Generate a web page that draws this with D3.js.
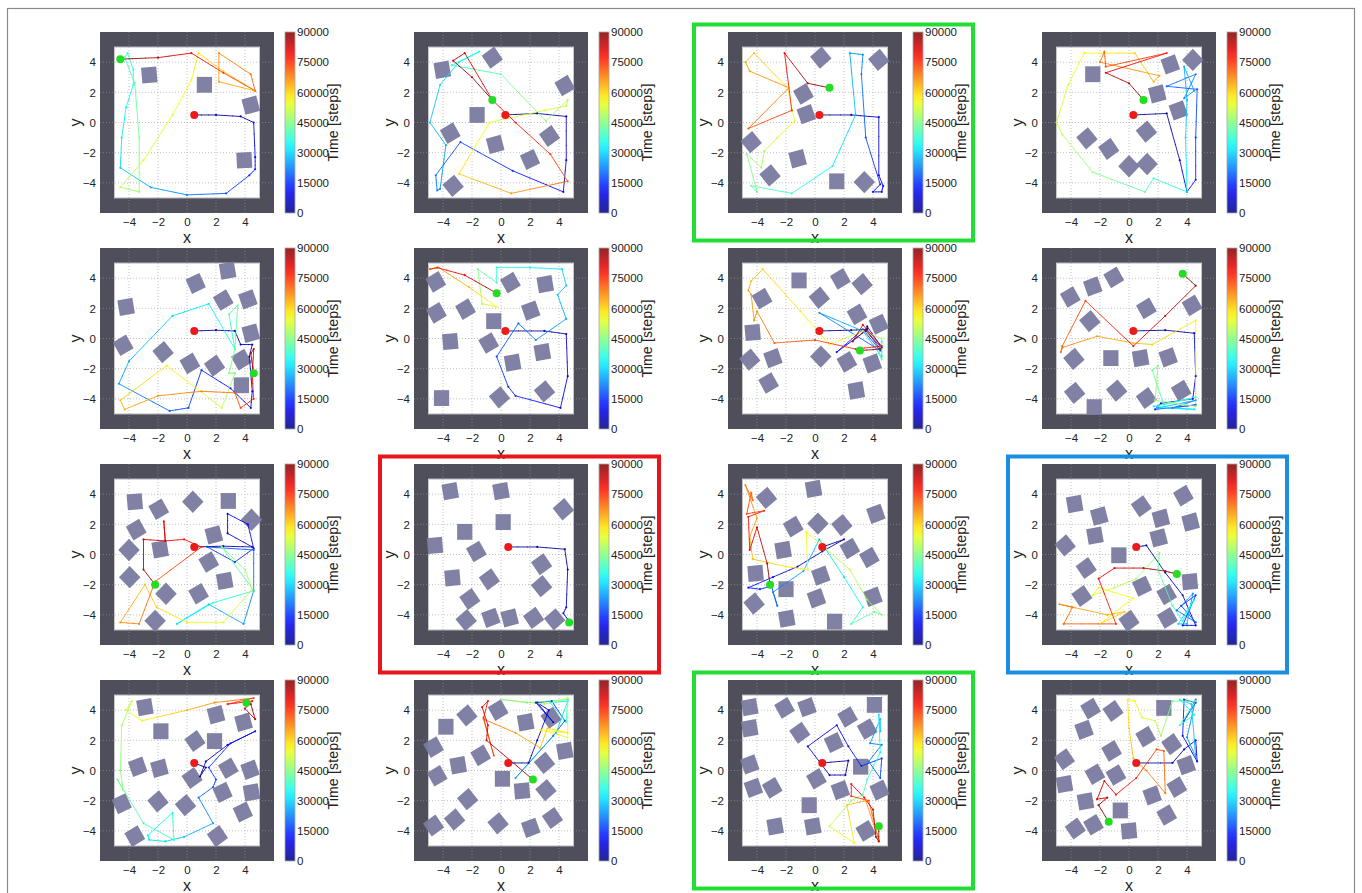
<!DOCTYPE html>
<html>
<head>
<meta charset="utf-8">
<script src="https://cdn.jsdelivr.net/npm/d3@7"></script>
<style>
  html, body { margin: 0; padding: 0; background: #fff; }
  svg { display: block; font-family: "Liberation Sans", Arial, sans-serif; }
</style>
</head>
<body>
<svg id="chart" width="1362" height="893"></svg>
<script>
// ---- shared values ----
const axisTicks = [-4, -2, 0, 2, 4];
const colorbarTicks = [0, 15000, 30000, 45000, 60000, 75000, 90000];
const timeMax = 90000;
const arenaHalf = 5;          // inner free area [-5, 5]
const axisHalf = 6;           // plot domain [-6, 6]
const obstacleSide = 1.05;

// ---- obstacles per run: [x, y, rotation in degrees] ----
const obstacles1 = [[-2.6,3.15,5],[1.2,2.5,0],[4.4,1.15,15],[3.95,-2.5,3]];
const obstacles2 = [[-4.05,3.5,10],[-0.6,4.3,35],[4.4,2.45,30],[-1.65,0.5,0],[-3.5,-0.7,30],[-0.4,-1.45,15],[3.35,-0.9,35],[2.0,-2.45,25],[-3.3,-4.2,40]];
const obstacles3 = [[0.4,4.3,40],[4.4,4.15,40],[-0.8,1.9,30],[-0.6,0.55,20],[-4.4,-1.3,40],[-1.2,-2.4,15],[-3.1,-3.5,40],[1.5,-3.9,0],[3.4,-3.95,45]];
const obstacles4 = [[-2.5,3.2,0],[2.85,3.85,20],[4.4,4.15,45],[1.95,1.9,15],[3.4,0.8,20],[1.2,-0.6,40],[-2.9,-1.05,40],[-1.4,-1.75,35],[0,-2.9,45],[1.25,-2.75,45]];
const obstacles5 = [[2.8,4.5,10],[0.6,3.65,25],[2.5,2.55,30],[4.2,2.6,20],[-4.2,2.1,10],[4.4,0.35,15],[-4.4,-0.45,30],[-1.65,-0.9,40],[0.2,-1.65,30],[1.9,-1.8,35],[3.75,-1.4,30],[3.75,-3.1,0]];
const obstacles6 = [[-4.5,3.75,30],[0.65,3.7,30],[3.05,3.6,10],[-4.45,1.7,30],[-2.45,1.95,30],[2.05,1.85,20],[-0.5,1.15,0],[-3.5,-0.2,5],[-0.85,-0.3,30],[2.85,-0.9,10],[0.8,-1.6,10],[-4.1,-3.95,0],[-0.1,-3.9,40],[3.0,-3.5,40]];
const obstacles7 = [[-1.1,3.85,0],[1.75,3.95,30],[3.25,3.6,40],[-3.65,2.65,30],[0.3,2.7,40],[2.9,1.6,30],[4.4,0.95,25],[-4.3,0.4,5],[-4.5,-1.4,40],[-2.9,-1.3,20],[0.4,-1.2,45],[2.2,-1.55,30],[3.95,-1.65,20],[-3.2,-2.95,30],[2.85,-3.45,10]];
const obstacles8 = [[-4.05,2.75,30],[-2.5,3.45,20],[-1.05,4.05,30],[1.2,2.0,30],[4.35,2.2,30],[-2.7,1.15,40],[-3.8,-1.35,40],[-1.25,-1.3,0],[0.8,-1.3,10],[2.7,-1.25,20],[-3.75,-3.6,40],[-0.85,-3.45,40],[1.2,-3.95,35],[3.6,-3.45,30],[-2.4,-4.55,0]];
const obstacles9 = [[-3.6,3.5,5],[-1.95,3.0,30],[0.4,3.5,45],[2.85,3.55,0],[4.45,2.3,45],[-3.5,1.65,30],[-4.0,0.3,45],[-1.85,0.35,10],[1.85,1.3,15],[1.5,-0.5,30],[-3.95,-1.5,45],[2.6,-1.75,10],[-1.45,-2.6,45],[0.8,-2.6,30],[-2.2,-4.4,45]];
const obstacles10 = [[-3.5,4.2,10],[0,4.2,10],[4.3,3.0,40],[0.15,2.15,0],[-2.5,1.5,0],[-4.55,0.6,5],[-1.7,0.2,30],[2.8,-0.65,35],[-3.35,-1.55,5],[-0.8,-1.65,35],[2.8,-2.1,40],[-2.15,-2.95,35],[-2.4,-4.35,40],[-0.7,-4.2,20],[0.6,-4.2,15],[2.25,-4.2,35],[3.7,-4.3,40]];
const obstacles11 = [[-0.1,4.35,10],[-3.35,3.75,40],[4.2,2.7,20],[-1.5,1.85,30],[0.2,2.05,45],[1.85,1.95,40],[-2.2,0.3,10],[2.4,0.4,30],[3.75,-0.2,30],[-4.1,-1.25,5],[0.4,-1.4,20],[-2.0,-2.3,0],[0.1,-2.9,20],[4.0,-2.8,20],[-4.2,-3.25,40],[-1.95,-4.25,10],[1.35,-4.45,0]];
const obstacles12 = [[-3.75,3.35,10],[-2.05,2.55,15],[0.85,3.2,35],[2.2,2.4,15],[3.75,3.9,30],[4.25,2.15,15],[-2.35,1.25,10],[2.05,1.1,15],[-4.4,0.6,40],[-0.7,-0.05,0],[-2.95,-0.9,35],[4.2,-1.8,5],[0.9,-2.1,25],[2.6,-2.65,30],[-3.25,-2.75,35],[0,-4.4,35],[2.65,-4.2,30]];
const obstacles13 = [[-2.9,4.2,10],[-1.8,2.6,0],[2.0,3.7,15],[3.9,3.2,15],[0.55,1.95,35],[1.9,1.95,0],[-3.4,0.25,20],[-1.9,0.15,15],[0.35,-0.5,35],[2.85,0.15,30],[4.35,0.05,20],[2.45,-1.45,25],[4.45,-1.45,10],[-4.5,-2.2,25],[-2.0,-2.05,40],[-0.1,-2.3,40],[3.85,-2.75,25],[-3.6,-4.35,30],[2.1,-4.35,35]];
const obstacles14 = [[-2.35,3.65,40],[-0.2,4.0,30],[1.7,3.2,10],[3.45,3.5,35],[-3.8,2.9,0],[4.4,1.3,10],[-4.65,1.55,30],[-1.4,1.0,30],[-2.95,0.35,10],[-4.4,-0.35,30],[0.1,-0.55,0],[3.0,0.5,40],[1.45,-1.35,5],[3.1,-1.3,40],[-2.3,-1.9,40],[-4.65,-3.65,35],[-3.2,-3.25,40],[-0.2,-3.5,40],[2.05,-3.8,20],[3.55,-3.15,35]];
const obstacles15 = [[-4.5,4.2,10],[-2.1,4.15,30],[-0.55,4.2,20],[4.1,4.35,0],[-4.5,2.8,10],[2.25,3.55,30],[3.6,2.75,30],[-1.05,2.5,35],[1.3,1.85,25],[-4.5,0.4,20],[3.15,0.25,0],[0.1,-0.55,30],[-4.25,-1.15,20],[-2.95,-1.15,30],[1.75,-1.3,20],[4.45,-1.3,25],[-0.4,-2.3,0],[-2.75,-3.7,10],[-0.15,-3.7,10],[3.5,-4.0,30]];
const obstacles16 = [[-2.65,4.1,30],[-1.1,3.95,35],[2.4,4.15,0],[-3.1,2.7,20],[1.15,2.25,30],[2.95,1.75,35],[-1.2,1.3,30],[-4.45,0.75,35],[-2.35,-0.25,30],[-0.9,-0.3,30],[3.95,0.35,20],[-4.45,-0.9,10],[3.3,-1.1,30],[1.6,-1.65,20],[-3.0,-2.05,10],[-0.6,-2.65,0],[2.6,-2.95,30],[-3.7,-3.85,35],[-2.45,-3.6,30],[0,-4.0,5]];

// ---- robot paths per run: [x, y, time step] ----
const path1 = [[0.5,0.5,0],[2.0,0.5,2000],[3.7,0.4,5000],[4.6,0.0,7000],[4.7,-2.3,10000],[4.7,-3.1,12000],[4.3,-3.5,14000],[2.7,-4.7,18000],[0,-4.8,22000],[-2.5,-4.3,26000],[-4.6,-3.0,30000],[-4.5,-1,32000],[-4.2,1.0,34000],[-3.7,2.5,36000],[-3.7,3.5,37000],[-4.1,4.6,38500],[-4.3,4.3,39000],[-3.6,2.6,41000],[-3.3,-1,44000],[-3.3,-4.6,47000],[-4.6,-4.3,49000],[-3,-2.5,52000],[-1,0.5,54500],[0.3,2.8,57000],[0.8,4.6,59000],[2.5,3.4,61000],[4.7,2.1,63000],[2.2,2.7,65000],[2.2,4.6,67000],[4.4,3.2,69000],[4.7,2.1,71000],[2.5,3.3,75000],[0.3,4.6,80000],[-2,4.3,85000],[-4.6,4.2,90000]];
const path2 = [[0.3,0.5,0],[2.5,0.6,2500],[4.5,0.4,5000],[4.5,-2.5,8000],[4.3,-4.6,10000],[0.8,-3.2,13500],[-2.8,-1.3,17000],[-4.5,-3.5,21000],[-4.4,-4.5,22500],[-4.2,-4.4,23500],[-3.8,-1.5,26000],[-4.9,0,28000],[-4.2,2.5,30500],[-2.9,4.0,33000],[-1.5,4.7,35000],[-3.4,3.8,38000],[0,3.2,42000],[3.1,0.1,47000],[4.6,1.5,50000],[4.5,1.1,51000],[3.0,0.8,52500],[-0.8,0,55000],[-2.9,-3.4,60000],[0.7,-4.7,65000],[4.6,-3.9,70000],[3.4,-2.1,74000],[1,0,78000],[-0.6,1.5,80000],[-2.5,4.6,84000],[-3.3,4.1,86000],[-2.0,3.0,88000],[-0.6,1.5,90000]];
const path3 = [[0.3,0.5,0],[2.5,0.5,3000],[4.4,0.35,6000],[4.4,-3.5,9000],[4.7,-4.2,10500],[4.6,-4.6,11500],[4,-4.6,12500],[4.5,-4.1,13500],[3.5,-1,18000],[3.2,3.2,22000],[3.3,4.5,23500],[2.4,4.6,25000],[2.8,0.5,29000],[1.2,-2.9,33000],[-1.6,-4.7,38000],[-4.4,-4.2,42000],[-4.0,-4.6,43000],[-4.7,-2.1,45500],[-3.7,-3.0,48000],[-3.5,-1.9,50000],[-2.6,-1.0,53000],[-1.4,0.1,55000],[-1.9,2.3,58000],[-4.2,4.6,62000],[-4.8,4.0,63500],[-4.5,3.4,65000],[-1.8,2.3,67000],[-4.6,-0.4,71000],[-1.6,0.8,75000],[-2.1,4.6,80000],[-0.5,2.6,86000],[1.0,2.3,90000]];
const path4 = [[0.3,0.5,0],[2.6,0.6,3000],[3.5,-2.5,8000],[4.0,-4.6,12000],[4.6,-3.8,14000],[4.6,-1,16000],[4.7,2.2,18000],[2.6,2.4,20000],[4.6,3.2,22000],[3.8,1.6,24000],[4.5,2.1,25000],[3.8,3.7,27000],[4.0,1.5,28000],[3.9,-1,31000],[4.0,-4.6,35000],[1.7,-3.7,38000],[1.1,-4.6,41000],[-2.5,-3.3,46000],[-4.6,-0.8,50000],[-5.0,0,51500],[-4.2,2.5,54000],[-3.1,4.6,56000],[0.4,4.6,60000],[1.7,2.7,63000],[2.1,3.1,64500],[-2.0,4.0,68000],[-1.7,4.7,70000],[-1.6,3.7,72000],[2.6,4.6,76000],[-1.6,3.3,82000],[0,2.6,86000],[1.0,1.5,90000]];
const path5 = [[0.5,0.5,0],[2.0,0.55,2000],[3.3,0.5,4000],[3.7,-0.4,5500],[4.5,-0.4,6500],[4.3,-1.2,7500],[4.5,-3.5,9000],[4.4,-4.6,10000],[3.0,-3.3,12000],[1.0,-2.1,14000],[0.1,-4.6,17000],[-1.2,-4.8,19000],[-4.7,-3.0,25000],[-4.0,-1.5,27000],[-1,1.5,30000],[1.5,2.3,32000],[3.3,-0.7,36000],[2.9,1.6,39000],[3.5,2.2,41000],[3.3,-0.7,43000],[2.9,-2.3,45000],[3.3,-2.3,46000],[2.4,-4.6,52000],[-1.4,-1.8,58000],[-4.6,-4.1,62000],[-4.3,-4.7,63500],[-2,-3.8,66000],[1,-3.5,68000],[3.3,-3.6,70000],[3.7,-4.6,73000],[4.6,-4.0,76000],[4.5,-2.5,79000],[4.6,-0.7,84000],[4.4,-1.0,86000],[4.6,-2.3,90000]];
const path6 = [[0.3,0.5,0],[3.0,0.5,2500],[4.5,0.3,4000],[4.6,-2.5,7000],[4.1,-4.6,10000],[1.0,-3.8,14000],[0.5,-3.2,15000],[-0.3,-1.2,17000],[1.2,1.0,20000],[2.4,-0.1,22000],[4.5,1.3,26000],[3.9,2.9,28000],[4.5,3.5,29500],[4.2,4.6,31000],[2.0,4.7,34000],[-0.3,4.7,37000],[-0.3,3.7,40000],[-1.6,4.6,44000],[-1.3,2.3,50000],[-0.3,2.1,55000],[-2.2,3.4,62000],[-4.3,4.7,68000],[-4.9,4.6,72000],[-4.4,4.7,76000],[-2.5,4.2,82000],[-0.3,3.0,90000]];
const path7 = [[0.3,0.5,0],[2.5,0.55,2000],[3.6,0.6,3500],[3.6,0.8,4500],[4.6,-0.6,7000],[3.5,0.5,9000],[1.5,-0.9,12000],[3.3,0.6,15000],[4.5,-0.8,18000],[0.3,1.7,24000],[3.3,0.5,28000],[4.6,-1.2,31000],[4.6,-0.2,36000],[4.4,-1.0,40000],[4.6,-1.4,44000],[4.6,0,47000],[3.3,0.5,50000],[1.0,-0.4,55000],[-1.0,1.8,58000],[-3.6,4.6,60500],[-4.4,3.8,62500],[-4.6,3.2,64000],[-4.4,2.9,65000],[-4.2,1.2,66000],[-4.0,1.8,67000],[-2.8,-0.3,70000],[0,-0.1,73000],[2.8,-0.7,76000],[4.6,-0.5,79000],[3.3,0.9,82000],[2.6,-0.2,85000],[3.5,0.6,87000],[4.5,-0.7,88500],[3.1,-0.8,90000]];
const path8 = [[0.3,0.5,0],[2.5,0.55,2000],[4.5,0.35,4500],[4.6,-2.5,8000],[4.4,-4.0,10000],[2.2,-4.3,13000],[1.8,-4.7,15000],[4.6,-4.4,18000],[3.0,-4.6,21000],[4.6,-4.1,24000],[2.0,-4.6,27000],[4.5,-4.7,31000],[1.7,-4.5,34000],[4.6,-3.9,37000],[2.4,-4.4,40000],[1.6,-2.1,43000],[2.0,-1.8,44500],[1.8,-4.1,47000],[4.6,-4.5,50000],[4.6,-1.0,54000],[4.6,1.2,57000],[1.6,-0.4,61000],[0.3,-0.3,62500],[-2.2,0.15,65000],[-4.6,-0.6,68000],[-4.7,-0.9,69000],[-4.6,-0.5,70000],[-3.0,2.5,74000],[0.3,-0.5,79000],[2.5,1.5,83000],[4.6,3.5,87000],[3.7,4.3,90000]];
const path9 = [[0.5,0.5,0],[2.5,0.55,2000],[4.5,0.5,4500],[2.8,1.4,7000],[2.8,2.7,9000],[4.2,2.0,11000],[4.6,0.4,13000],[3.3,-0.5,15000],[1.4,0.5,17000],[4.6,0.3,19000],[4.6,-2.4,22000],[3.9,-4.6,25000],[1.5,-3.3,29000],[-0.7,-4.6,32000],[0,-4.2,33000],[1.8,-3.2,35000],[4.6,-2.4,39000],[2.4,0.5,44000],[4.0,-1,47000],[4.5,-2.3,50000],[2.5,-4.5,54000],[0,-4.5,57000],[-2.1,-3.5,60000],[-2.9,-2.0,62000],[-4.6,-4.5,66000],[-3.3,-4.6,68000],[-2.2,-1.8,71000],[1.0,0.5,76000],[-0.2,1.0,78000],[-1.5,0.9,80000],[-1.6,2.2,81500],[-1.5,0.9,82000],[-3.0,1.0,83500],[-3.0,-1.0,85500],[-2.2,-2.0,90000]];
const path10 = [[0.5,0.5,0],[2.5,0.5,1500],[4.4,0.35,3000],[4.6,-1.0,4500],[4.5,-3.5,9000],[4.3,-3.9,10000],[4.6,-4.3,11000],[4.7,-4.5,12000]];
const path11 = [[0.5,0.5,0],[2.0,1.0,3000],[0.5,0.2,5000],[-1.2,-0.8,8000],[-2.9,-1.5,11000],[-4.6,-2.2,13000],[-3.8,-2.3,15000],[-3.0,-2.1,17000],[-2.6,-3.4,20000],[-2.9,-2.5,22000],[-0.8,-1.1,26000],[0.3,1.0,29000],[2.0,-1.5,33000],[3.3,-3.5,36000],[2.5,-4.6,40000],[4.1,-3.8,43000],[4.6,-4.0,45000],[3.6,-3.0,48000],[2.4,-1,51000],[-0.6,1.5,55000],[-0.5,-1.0,57000],[-2.0,-0.8,59000],[-4.3,-0.3,62000],[-4.5,1.2,64000],[-4.0,2.4,65000],[-4.8,4.6,68000],[-4.3,3.6,70000],[-4.4,4.1,71000],[-4.7,2.7,73000],[-3.5,2.9,75000],[-4.6,2.5,77000],[-4.5,0.3,80000],[-4.0,1.8,82000],[-3.3,-0.6,85000],[-3.1,-2.0,90000]];
const path12 = [[0.5,0.5,0],[1.2,0.6,2000],[2.5,-1.2,5000],[3.7,-2.7,8000],[4.6,-4.7,10000],[3.7,-4.7,12000],[4.6,-2.7,14000],[3.6,-3.4,16000],[4.6,-4.5,18000],[3.3,-3.7,21000],[4.4,-2.6,24000],[4.0,-4.6,27000],[3.4,-4.6,30000],[4.5,-3.0,33000],[3.7,-4.4,36000],[3.0,-3.4,39000],[2.0,-1.0,42000],[2.1,0.1,44000],[0.5,-1.6,48000],[-1.0,-2.2,51000],[-2.5,-2.7,53000],[-2.1,-2.2,54500],[0.3,-2.9,56500],[-2.0,-4.6,59000],[-0.3,-3.8,61000],[-1.5,-4.0,63000],[-4.8,-3.3,67000],[-3.9,-3.5,68500],[-4.5,-4.6,70000],[-0.9,-4.6,75000],[-2.1,-1.6,79000],[-1.0,-0.9,82000],[1.0,-0.9,85000],[2.5,-1.1,88000],[3.3,-1.3,90000]];
const path13 = [[0.5,0.5,0],[1.3,0.2,2000],[0.9,-0.4,3500],[1.3,0.6,5000],[2.8,1.7,8000],[4.7,2.6,11000],[3.0,1.8,13000],[1.5,0.2,15000],[2.0,-0.6,17000],[1.8,-1.1,19000],[0.8,-1.8,21000],[1.8,-3.5,25000],[-0.2,-4.4,28000],[-1.5,-4.7,30000],[-2.6,-4.6,32000],[-2.7,-4.3,33000],[-1.0,-2.8,35000],[-0.9,-4.6,37000],[-3.0,-3.5,40000],[-4.8,-0.6,43500],[-4.4,-1.3,45000],[-4.6,0,46000],[-4.5,3.0,48500],[-3.8,4.6,50500],[-4.2,4.0,52000],[-3.1,3.3,57000],[0,4.0,62000],[1.9,4.5,66000],[4.6,4.8,72000],[2.8,4.4,76000],[4.5,4.6,79000],[4.0,4.1,82000],[4.7,3.4,85000],[4.4,4.4,88000],[4.1,4.5,90000]];
const path14 = [[0.5,0.5,0],[1.9,0.5,2000],[2.5,2.0,4500],[3.3,4.0,7000],[2.5,4.5,8500],[3.6,3.2,10000],[2.4,4.5,12000],[3.5,4.6,14000],[4.4,3.3,17000],[3.6,2.3,20000],[1.0,-0.5,25000],[3.8,2.5,29000],[4.6,4.6,33000],[3.4,4.5,35000],[4.5,3.2,37000],[4.6,4.7,40000],[1.8,4.5,44000],[0.1,4.7,46000],[3.0,4.4,49000],[4.6,4.8,51000],[4.6,2.2,54000],[2.7,2.7,56000],[4.6,2.5,58000],[3.2,2.8,60000],[2.7,1.5,62000],[1.0,2.5,66000],[-1.2,3.4,69000],[-0.5,1.0,72000],[-1.2,3.5,75000],[-0.9,4.6,78000],[-1.3,4.2,80000],[-0.9,3.0,82000],[-1.0,2.0,84000],[2.2,-0.6,90000]];
const path15 = [[0.5,0.5,0],[2.3,0.65,2000],[2.1,-0.3,3500],[1.0,-0.3,5000],[-0.5,1.6,7500],[1.5,3.0,10000],[2.3,1.6,12000],[3.2,0.3,14000],[4.6,0.8,16000],[4.5,-0.5,18000],[3.7,0.6,20000],[4.6,1.7,22000],[3.8,1.8,24000],[4.5,3.4,27000],[4.5,2.6,29000],[4.4,3.7,32000],[4.5,1.2,35000],[3.6,-0.6,39000],[3.3,-1.6,42000],[2.5,-2.0,46000],[1.0,-3.7,52000],[2.7,-4.8,57000],[2.2,-2.3,61000],[3.5,-2.0,65000],[4.4,-4.6,69000],[3.7,-2.0,72000],[2.5,-1.7,75000],[2.5,-0.9,78000],[3.4,-1.8,80000],[4.0,-2.6,82000],[4.2,-4.4,85000],[4.4,-4.7,87000],[4.4,-3.7,90000]];
const path16 = [[0.5,0.5,0],[3.0,0.5,3000],[3.8,1.4,5000],[4.6,2.0,7000],[4.7,0.6,9000],[3.7,2.3,12000],[3.8,4.7,15000],[4.6,4.5,17000],[3.8,3.3,19000],[4.6,4.7,21000],[4.0,2.2,24000],[4.6,0.9,26000],[4.3,4.4,30000],[3.5,4.7,33000],[4.5,3.7,36000],[3.5,3.0,39000],[4.6,4.6,42000],[3.0,4.6,44000],[2.2,2.3,48000],[1.8,3.3,51000],[0.9,3.5,53000],[0.4,4.6,55000],[-0.1,4.7,57000],[0.0,2.8,60000],[0.3,0.8,63000],[1.2,0,66000],[2.5,-1.5,69000],[2.4,1.3,71000],[1.9,1.4,72500],[0.5,-0.5,76000],[-0.9,-1.6,79000],[-1.7,-0.7,81000],[-2.2,-1.9,83000],[-1.5,-1.8,85000],[-2.1,-2.3,87000],[-1.4,-3.4,90000]];

const runObstacles = [obstacles1, obstacles2, obstacles3, obstacles4, obstacles5, obstacles6, obstacles7, obstacles8,
                      obstacles9, obstacles10, obstacles11, obstacles12, obstacles13, obstacles14, obstacles15, obstacles16];
const runPaths = [path1, path2, path3, path4, path5, path6, path7, path8,
                  path9, path10, path11, path12, path13, path14, path15, path16];

// runs framed by a coloured outline: [run index, outcome]
const framedRuns = [[2, "good"], [9, "fail"], [11, "other"], [14, "good"]];

// ---- layout ----
const gridCols = 4;
const panelX0 = 100, panelY0 = 32, panelDX = 314, panelDY = 216;
const plotW = 174, plotH = 181;
const cbarOffset = 185, cbarW = 10;

// jet colormap
function jet(v) {
  const c = x => Math.max(0, Math.min(1, x));
  const r = c(1.5 - Math.abs(4 * v - 3));
  const g = c(1.5 - Math.abs(4 * v - 2));
  const b = c(1.5 - Math.abs(4 * v - 1));
  return d3.rgb(r * 255, g * 255, b * 255).formatHex();
}
const timeColor = d3.scaleSequential(jet).domain([0, timeMax]);

const svg = d3.select("#chart");
const defs = svg.append("defs");

// colour bar gradient (bottom = 0 steps)
const grad = defs.append("linearGradient").attr("id", "jetGrad")
  .attr("x1", 0).attr("y1", 1).attr("x2", 0).attr("y2", 0);
d3.range(0, 1.0001, 0.05).forEach(s => {
  grad.append("stop").attr("offset", s).attr("stop-color", timeColor(s * timeMax));
});

// outer figure border
svg.append("rect").attr("x", 7.5).attr("y", 8.5).attr("width", 1347).attr("height", 900)
  .attr("fill", "none").attr("stroke", "#8a8a8a").attr("stroke-width", 1.2);

const outcomeColor = { good: "#22dd33", fail: "#e8161b", other: "#1a8fe0" };

runPaths.forEach((path, i) => {
  const col = i % gridCols, row = Math.floor(i / gridCols);
  const ox = panelX0 + col * panelDX, oy = panelY0 + row * panelDY;
  const g = svg.append("g").attr("transform", `translate(${ox},${oy})`);

  const x = d3.scaleLinear().domain([-axisHalf, axisHalf]).range([0, plotW]);
  const y = d3.scaleLinear().domain([-axisHalf, axisHalf]).range([plotH, 0]);

  // walls and free floor
  g.append("rect").attr("width", plotW).attr("height", plotH).attr("fill", "#4f4f5b");
  g.append("rect")
    .attr("x", x(-arenaHalf)).attr("y", y(arenaHalf))
    .attr("width", x(arenaHalf) - x(-arenaHalf)).attr("height", y(-arenaHalf) - y(arenaHalf))
    .attr("fill", "#ffffff").attr("stroke", "#c8c8cc").attr("stroke-width", 1);

  // dotted grid
  const grid = g.append("g").attr("stroke", "#9a9aa2").attr("stroke-width", 0.8)
    .attr("stroke-dasharray", "1,2").attr("opacity", 0.75);
  axisTicks.forEach(t => {
    grid.append("line").attr("x1", x(t)).attr("x2", x(t)).attr("y1", 0).attr("y2", plotH);
    grid.append("line").attr("y1", y(t)).attr("y2", y(t)).attr("x1", 0).attr("x2", plotW);
  });

  // obstacles (rotated squares)
  const half = obstacleSide / 2;
  g.append("g").selectAll("polygon").data(runObstacles[i]).join("polygon")
    .attr("points", d => {
      const a = d[2] * Math.PI / 180, ca = Math.cos(a), sa = Math.sin(a);
      return [[-half, -half], [half, -half], [half, half], [-half, half]].map(([u, v]) =>
        [x(d[0] + u * ca - v * sa), y(d[1] + u * sa + v * ca)].join(",")).join(" ");
    })
    .attr("fill", "#7a7aa0").attr("opacity", 0.95);

  // trajectory, coloured by time
  const segs = [];
  for (let k = 0; k < path.length - 1; k++) {
    const p = path[k], q = path[k + 1];
    const n = 3;
    for (let j = 0; j < n; j++) {
      const a = j / n, b = (j + 1) / n;
      segs.push({
        x1: p[0] + (q[0] - p[0]) * a, y1: p[1] + (q[1] - p[1]) * a,
        x2: p[0] + (q[0] - p[0]) * b, y2: p[1] + (q[1] - p[1]) * b,
        t: p[2] + (q[2] - p[2]) * (a + b) / 2
      });
    }
  }
  g.append("g").selectAll("line").data(segs).join("line")
    .attr("x1", d => x(d.x1)).attr("y1", d => y(d.y1))
    .attr("x2", d => x(d.x2)).attr("y2", d => y(d.y2))
    .attr("stroke", d => timeColor(d.t)).attr("stroke-width", 1)
    .attr("stroke-linecap", "round").attr("opacity", 0.85);
  g.append("g").selectAll("circle").data(path.slice(1, -1)).join("circle")
    .attr("cx", d => x(d[0])).attr("cy", d => y(d[1])).attr("r", 1.1)
    .attr("fill", d => timeColor(d[2])).attr("opacity", 0.85);

  // start and end points
  const start = path[0], end = path[path.length - 1];
  g.append("circle").attr("cx", x(start[0])).attr("cy", y(start[1])).attr("r", 4).attr("fill", "#ee1a1a");
  g.append("circle").attr("cx", x(end[0])).attr("cy", y(end[1])).attr("r", 4).attr("fill", "#22dd22");

  // axes
  const ax = g.append("g").attr("transform", `translate(0,${plotH})`)
    .call(d3.axisBottom(x).tickValues(axisTicks).tickSize(0).tickPadding(5));
  const ay = g.append("g")
    .call(d3.axisLeft(y).tickValues(axisTicks).tickSize(0).tickPadding(4));
  [ax, ay].forEach(a => {
    a.select(".domain").remove();
    a.selectAll("text").attr("font-size", 11.5).attr("fill", "#222")
      .attr("font-family", "Liberation Sans, Arial, sans-serif");
  });
  g.append("text").attr("x", plotW / 2).attr("y", plotH + 30).attr("text-anchor", "middle")
    .attr("font-size", 16).attr("fill", "#222").text("x");
  g.append("text").attr("transform", `translate(-19,${plotH / 2}) rotate(-90)`)
    .attr("text-anchor", "middle").attr("font-size", 16).attr("fill", "#222").text("y");

  // colour bar
  const cb = g.append("g").attr("transform", `translate(${cbarOffset},0)`);
  const cy = d3.scaleLinear().domain([0, timeMax]).range([plotH, 0]);
  cb.append("rect").attr("width", cbarW).attr("height", plotH)
    .attr("fill", "url(#jetGrad)").attr("opacity", 0.85)
    .attr("stroke", "#9a9a9a").attr("stroke-width", 0.8);
  const cax = cb.append("g").attr("transform", `translate(${cbarW},0)`)
    .call(d3.axisRight(cy).tickValues(colorbarTicks).tickFormat(d3.format("d")).tickSize(0).tickPadding(2));
  cax.select(".domain").remove();
  cax.selectAll("text").attr("font-size", 11.5).attr("fill", "#222")
    .attr("font-family", "Liberation Sans, Arial, sans-serif");
  cb.append("text").attr("transform", `translate(${cbarW + 43},${plotH / 2}) rotate(-90)`)
    .attr("text-anchor", "middle").attr("font-size", 14).attr("letter-spacing", 0.2)
    .attr("fill", "#222").text("Time [steps]");
});

// coloured outlines around selected runs
framedRuns.forEach(([i, kind]) => {
  const col = i % gridCols, row = Math.floor(i / gridCols);
  const ox = panelX0 + col * panelDX, oy = panelY0 + row * panelDY;
  svg.append("rect")
    .attr("x", ox - 34).attr("y", oy - 7.5).attr("width", 279).attr("height", 216)
    .attr("fill", "none").attr("stroke", outcomeColor[kind]).attr("stroke-width", 4);
});
</script>
</body>
</html>
